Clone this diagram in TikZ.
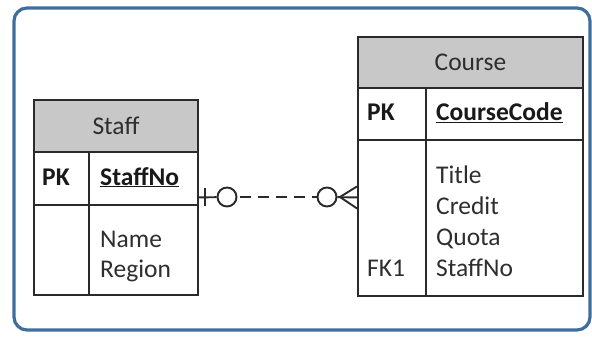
\documentclass[tikz,border=0pt]{standalone}
\usepackage{fontspec}
\usetikzlibrary{calc}
\setmainfont{Carlito}
\definecolor{linecol}{HTML}{2A2A2A}
\definecolor{hdrfill}{HTML}{C8C8C8}
\definecolor{framecol}{HTML}{3F6D9E}
\definecolor{txtcol}{HTML}{2E2E2E}
\begin{document}
\begin{tikzpicture}[x=1pt,y=-1pt,
  tbl/.style={draw=linecol, line width=1.9pt, fill=white, inner sep=0pt, anchor=north west},
  hdr/.style={draw=linecol, line width=1.9pt, fill=hdrfill, inner sep=0pt, anchor=north west,
              font=\fontsize{25.5}{30}\selectfont, text=txtcol},
  attr/.style={anchor=base west, inner sep=0pt, font=\fontsize{25.5}{30}\selectfont, text=txtcol},
  keyattr/.style={attr, font=\fontsize{25.5}{30}\selectfont\bfseries, text=black!90},
  rel/.style={draw=linecol, line width=1.9pt},
  ring/.style={circle, draw=linecol, line width=1.9pt, minimum size=19pt, inner sep=0pt, fill=white},
  frame/.style={draw=framecol, line width=3.2pt, rounded corners=13pt}
]
\path[use as bounding box] (0,0) rectangle (592,337);
\draw[frame] (14,8) rectangle (590,330);

% Staff table
\node[tbl, minimum width=164pt, minimum height=195pt] (staff) at (33,99) {};
\node[hdr, minimum width=164pt, minimum height=52pt] (staffhdr) at (33,99) {Staff};
\draw[rel] (33,205) -- (197,205);
\draw[rel] (89,151) -- (89,294);
\node[keyattr] (spk) at (42,185) {PK};
\node[keyattr] (sno) at (100,185) {\underline{StaffNo}};
\node[attr] (sname) at (100,247) {Name};
\node[attr] (sregion) at (100,277) {Region};

% Course table
\node[tbl, minimum width=225pt, minimum height=259pt] (course) at (357,36) {};
\node[hdr, minimum width=225pt, minimum height=51pt] (coursehdr) at (357,36) {Course};
\draw[rel] (357,140) -- (582,140);
\draw[rel] (426,87) -- (426,295);
\node[keyattr] (cpk) at (367,121) {PK};
\node[keyattr] (ccode) at (436,121) {\underline{CourseCode}};
\node[attr] (ctitle) at (436,183) {Title};
\node[attr] (ccredit) at (436,214) {Credit};
\node[attr] (cquota) at (436,245) {Quota};
\node[attr] (cfk) at (367,276) {FK1};
\node[attr] (cstaff) at (436,276) {StaffNo};

% Relationship
\coordinate (cw) at (course.west |- staff.east);
\node[ring] (r1) at (227,197) {};
\node[ring] (r2) at (327,197) {};
\coordinate (foot) at (340,197);
\draw[rel] (staff.east) -- (r1);
\draw[rel] (205,188) -- (205,206);
\draw[rel, dash pattern=on 11pt off 7pt, dash phase=-3pt] (r1) -- (r2);
\draw[rel] (r2) -- (cw);
\draw[rel] (foot) -- ($(cw)+(0,-11)$);
\draw[rel] (foot) -- ($(cw)+(0,11)$);
\end{tikzpicture}
\end{document}
